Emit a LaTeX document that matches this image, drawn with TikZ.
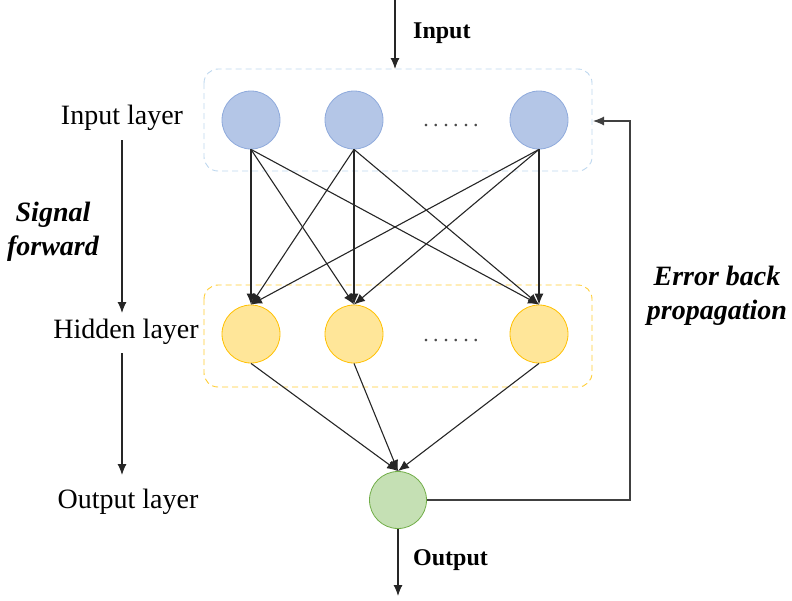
\documentclass[tikz,border=0pt]{standalone}
\usepackage{fontspec}
\setmainfont{Liberation Serif}
\usetikzlibrary{arrows.meta}
\begin{document}
\begin{tikzpicture}[x=1pt,y=-1pt,
  inbox/.style={draw=boxblue, dash pattern=on 6pt off 4pt, rounded corners=14pt, line width=0.9pt},
  hidbox/.style={draw=hidedge!80, dash pattern=on 6pt off 4pt, rounded corners=14pt, line width=0.9pt},
  inneuron/.style={circle, minimum size=58pt, inner sep=0pt, draw=inedge, fill=inblue, line width=0.8pt},
  hidneuron/.style={circle, minimum size=58pt, inner sep=0pt, draw=hidedge, fill=hidfill, line width=0.8pt},
  outneuron/.style={circle, minimum size=57pt, inner sep=0pt, draw=outedge, fill=outfill, line width=0.8pt},
  conn/.style={-{Latex[length=11pt,width=9pt]}, line width=1.1pt, draw=black!85},
  fbline/.style={-{Latex[length=11pt,width=9pt]}, line width=1.1pt, draw=black!75},
  lbl/.style={font=\fontsize{28}{32}\selectfont, inner sep=0pt},
  blbl/.style={font=\fontsize{24}{28}\selectfont\bfseries, inner sep=0pt},
  bilbl/.style={font=\fontsize{28}{34}\selectfont\bfseries\itshape, inner sep=0pt, align=center},
  dotslbl/.style={font=\fontsize{22}{22}\selectfont, text=black!70, inner sep=0pt}
]
\definecolor{inblue}{RGB}{180,198,231}
\definecolor{inedge}{RGB}{143,170,220}
\definecolor{hidfill}{RGB}{255,230,153}
\definecolor{hidedge}{RGB}{255,192,0}
\definecolor{outfill}{RGB}{197,224,180}
\definecolor{outedge}{RGB}{112,173,71}
\definecolor{boxblue}{RGB}{189,215,238}
\useasboundingbox (0,0) rectangle (792,600);

% boxes
\draw[inbox] (204,69) rectangle (592,171);
\coordinate (inboxtop) at (395,69);
\coordinate (inboxright) at (593,121);
\draw[hidbox] (204,285) rectangle (592,387);

% neurons
\node[inneuron] (i1) at (251,120) {};
\node[inneuron] (i2) at (354,120) {};
\node[inneuron] (i3) at (539,120) {};
\node[hidneuron] (h1) at (251,334) {};
\node[hidneuron] (h2) at (354,334) {};
\node[hidneuron] (h3) at (539,334) {};
\node[outneuron] (o) at (398,500) {};

\node[dotslbl, anchor=base] (d1) at (451,126) {.\kern4.5pt.\kern4.5pt.\kern4.5pt.\kern4.5pt.\kern4.5pt.};
\node[dotslbl, anchor=base] (d2) at (451,341) {.\kern4.5pt.\kern4.5pt.\kern4.5pt.\kern4.5pt.\kern4.5pt.};

% connections input -> hidden
\foreach \a in {i1,i2,i3}{
  \foreach \b in {h1,h2,h3}{
    \draw[conn] (\a.south) -- (\b.north);
  }
}
% hidden -> output
\foreach \b in {h1,h2,h3}{
  \draw[conn] (\b.south) -- (o.north);
}

% input / output arrows
\coordinate (intop) at (395,0);
\draw[conn] (intop) -- (inboxtop);
\node[blbl, anchor=west] (inlbl) at (413,33) {Input};
\coordinate (outbot) at (398,596);
\draw[conn] (o.south) -- (outbot);
\node[blbl, anchor=west] (outlbl) at (413,560) {Output};

% feedback
\coordinate (fb1) at (630,500);
\coordinate (fb2) at (630,121);
\draw[fbline] (o.east) -- (fb1) -- (fb2) -- (inboxright);
\node[bilbl] (err) at (717,296) {Error back\\propagation};

% left labels
\node[lbl] (L1) at (122,118) {Input layer};
\node[lbl] (L2) at (126,332) {Hidden layer};
\node[lbl] (L3) at (128,502) {Output layer};
\coordinate (a1s) at (122,140);
\coordinate (a1e) at (122,313);
\coordinate (a2s) at (122,353);
\coordinate (a2e) at (122,475);
\draw[conn] (a1s) -- (a1e);
\draw[conn] (a2s) -- (a2e);
\node[bilbl] (sf) at (53,232) {Signal\\forward};
\end{tikzpicture}
\end{document}
